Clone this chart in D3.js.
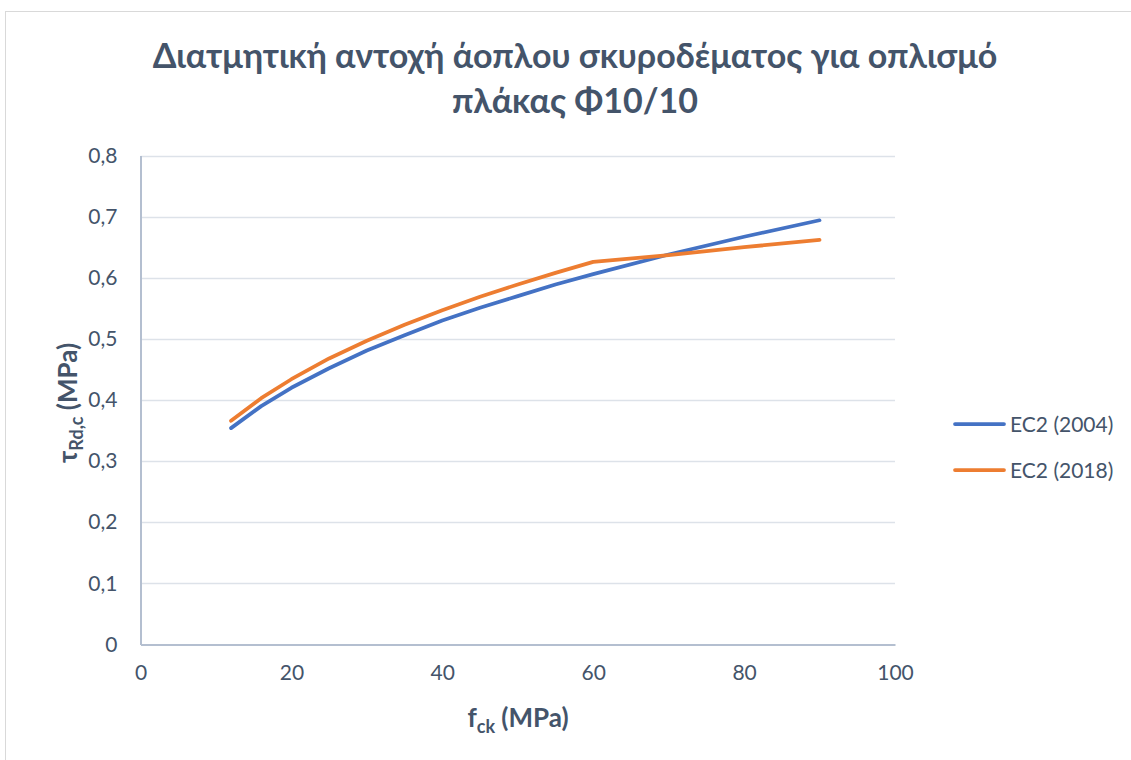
<!DOCTYPE html>
<html>
<head>
<meta charset="utf-8">
<script src="https://cdn.jsdelivr.net/npm/d3@7"></script>
<style>
  html, body { margin: 0; padding: 0; background: #fff; }
  svg { display: block; font-family: Lato, "Open Sans", sans-serif; }
</style>
</head>
<body>
<svg id="chart" width="1131" height="760"></svg>
<script>
// Concrete strength classes fck (MPa)
const fck = [12, 16, 20, 25, 30, 35, 40, 45, 50, 55, 60, 70, 80, 90];
// Shear resistance without shear reinforcement, τRd,c (MPa)
const ec2004 = [0.354, 0.390, 0.420, 0.452, 0.481, 0.506, 0.530, 0.551, 0.570, 0.589, 0.606, 0.638, 0.667, 0.694];
const ec2018 = [0.366, 0.403, 0.434, 0.468, 0.497, 0.523, 0.547, 0.569, 0.589, 0.608, 0.626, 0.637, 0.650, 0.662];
const seriesNames = ["EC2 (2004)", "EC2 (2018)"];
const seriesColors = ["#4472c4", "#ed7d31"];
const xTicks = [0, 20, 40, 60, 80, 100];
const yTicks = [0, 0.1, 0.2, 0.3, 0.4, 0.5, 0.6, 0.7, 0.8];
const titleLines = ["Διατμητική αντοχή άοπλου σκυροδέματος για οπλισμό", "πλάκας Φ10/10"];

const svg = d3.select("#chart");
const textColor = "#44546a";

// chart frame
svg.append("rect").attr("x", 5.5).attr("y", 11.5).attr("width", 1140).attr("height", 760)
  .attr("fill", "#fff").attr("stroke", "#d9d9d9").attr("stroke-width", 1);

const plot = { left: 140.5, right: 895, top: 155.5, bottom: 644.5 };
const x = d3.scaleLinear().domain([0, 100]).range([plot.left, plot.right]);
const y = d3.scaleLinear().domain([0, 0.8]).range([plot.bottom, plot.top]);

// title
svg.append("text").attr("x", 575).attr("y", 0)
  .attr("text-anchor", "middle").attr("fill", textColor)
  .attr("font-size", 34).attr("font-weight", 700)
  .selectAll("tspan").data(titleLines).join("tspan")
  .attr("x", 575).attr("y", (d, i) => 68 + i * 45).text(d => d);

// horizontal gridlines
svg.append("g").selectAll("line").data(yTicks.slice(1)).join("line")
  .attr("x1", plot.left).attr("x2", plot.right)
  .attr("y1", d => Math.round(y(d)) + 0.5).attr("y2", d => Math.round(y(d)) + 0.5)
  .attr("stroke", "#dde2e9").attr("stroke-width", 1.5);

// axes
const fmt = d => d3.format(".1f")(d).replace(".", ",");
const yAxis = svg.append("g").attr("transform", `translate(${plot.left},0)`)
  .call(d3.axisLeft(y).tickValues(yTicks).tickSize(0).tickPadding(23).tickFormat(d => d === 0 ? "0" : fmt(d)));
const xAxis = svg.append("g").attr("transform", `translate(0,${plot.bottom})`)
  .call(d3.axisBottom(x).tickValues(xTicks).tickSize(0).tickPadding(21).tickFormat(d3.format("d")));
[yAxis, xAxis].forEach(g => {
  g.select(".domain").attr("stroke", "#b4bfd0").attr("stroke-width", 2);
  g.selectAll("text").attr("fill", textColor).attr("font-size", 21).attr("font-family", "Lato, sans-serif");
});

// axis titles
const xt = svg.append("text").attr("x", 518).attr("y", 727).attr("text-anchor", "middle")
  .attr("fill", textColor).attr("font-size", 26).attr("font-weight", 700);
xt.append("tspan").text("f");
xt.append("tspan").attr("font-size", 18).attr("dy", 6).text("ck");
xt.append("tspan").attr("dy", -6).text(" (MPa)");

const yt = svg.append("text").attr("transform", "translate(77,403) rotate(-90)").attr("text-anchor", "middle")
  .attr("fill", textColor).attr("font-size", 26).attr("font-weight", 700);
yt.append("tspan").text("τ");
yt.append("tspan").attr("font-size", 18).attr("dy", 6).text("Rd,c");
yt.append("tspan").attr("dy", -6).text(" (MPa)");

// series lines
const series = [ec2004, ec2018];
const line = d3.line().x((d, i) => x(fck[i])).y(d => y(d));
svg.append("g").selectAll("path").data(series).join("path")
  .attr("d", d => line(d)).attr("fill", "none")
  .attr("stroke", (d, i) => seriesColors[i]).attr("stroke-width", 3.75)
  .attr("stroke-linejoin", "round").attr("stroke-linecap", "round");

// legend
const lg = svg.append("g").selectAll("g").data(seriesNames).join("g")
  .attr("transform", (d, i) => `translate(955,${424 + i * 46})`);
lg.append("line").attr("x1", 0).attr("x2", 49).attr("y1", 0).attr("y2", 0)
  .attr("stroke", (d, i) => seriesColors[i]).attr("stroke-width", 3.75).attr("stroke-linecap", "round");
lg.append("text").attr("x", 55).attr("y", 7.5).attr("fill", textColor).attr("font-size", 21).text(d => d);
</script>
</body>
</html>
